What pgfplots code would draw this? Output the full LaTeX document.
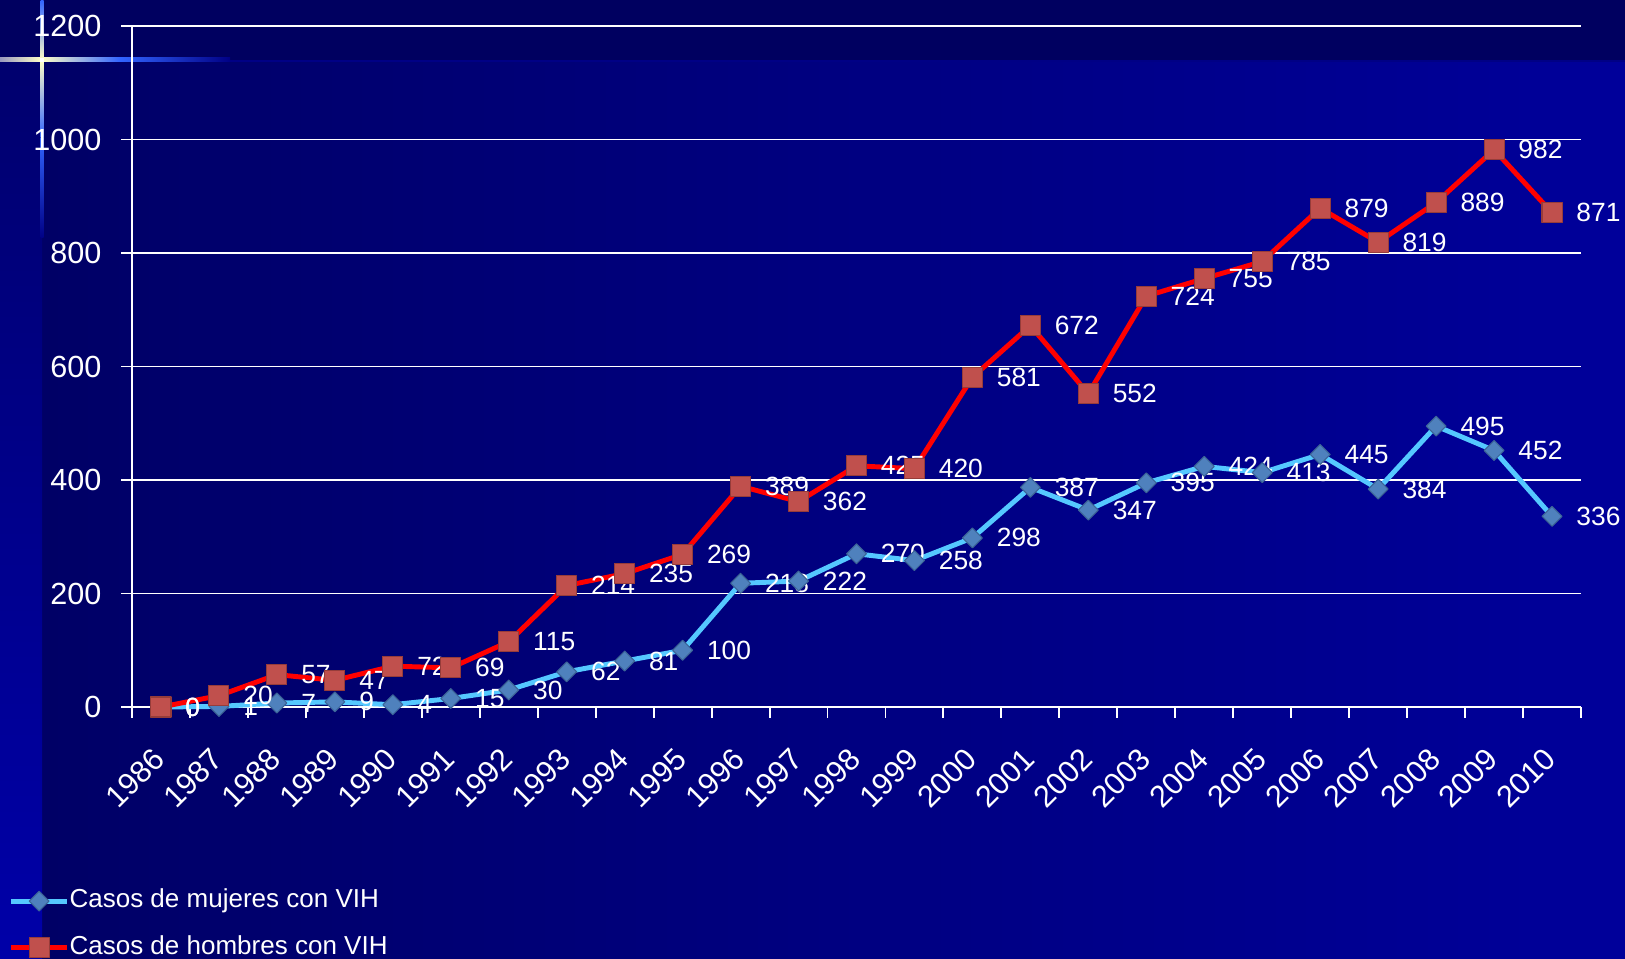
\documentclass[border=0pt]{standalone}
\usepackage{pgfplots}
\pgfplotsset{compat=1.18}
\usepackage{pgfplotstable}
\usepackage{fontspec}
\setmainfont{Liberation Sans}
\definecolor{bgtop}{RGB}{0,0,96}
\definecolor{bgL}{RGB}{0,0,102}
\definecolor{bgR}{RGB}{0,0,154}
\definecolor{stripT}{RGB}{0,0,110}
\definecolor{stripB}{RGB}{0,0,168}
\definecolor{flareW}{RGB}{255,255,200}
\definecolor{flareB}{RGB}{50,100,255}
\definecolor{lblue}{RGB}{85,200,255}
\definecolor{dblue}{RGB}{79,129,189}
\definecolor{dblueedge}{RGB}{60,100,150}
\definecolor{sqfill}{RGB}{192,80,77}
\definecolor{sqedge}{RGB}{150,60,58}

\pgfplotstableread{
x m h
0 0 0
1 1 20
2 7 57
3 9 47
4 4 72
5 15 69
6 30 115
7 62 214
8 81 235
9 100 269
10 218 389
11 222 362
12 270 425
13 258 420
14 298 581
15 387 672
16 347 552
17 395 724
18 424 755
19 413 785
20 445 879
21 384 819
22 495 889
23 452 982
24 336 871
}\datatable

\begin{document}
\begin{tikzpicture}
\clip (0mm,0mm) rectangle (162.5mm,95.8mm);
\begin{scope}[x=0.1mm,y=0.1mm]
\fill[bgtop] (0,0) rectangle (1625,958);
\shade[left color=bgL, right color=bgR] (42,0) rectangle (1625,896);
\shade[top color=stripT, bottom color=stripB] (0,0) rectangle (42,896);
% flare
\fill[bgR!60!bgL] (42,896) rectangle (1625,898);
\shade[left color=bgtop!40!white, right color=flareW] (0,896) rectangle (42,900);
\shade[left color=flareW, right color=flareB] (42,896) rectangle (120,900);
\shade[left color=flareB, right color=bgR!60!bgL] (120,896) rectangle (230,900);
\shade[bottom color=flareW, top color=flareB] (40.5,898) rectangle (43.5,958);
\shade[top color=flareW, bottom color=flareB] (40.5,898) rectangle (43.5,820);
\shade[top color=flareB, bottom color=stripT!60!stripB] (40.5,820) rectangle (43.5,720);
\fill[white] (40,896) rectangle (44,900);
\end{scope}

\begin{axis}[
  at={(13.2mm,25.1mm)}, anchor=south west, scale only axis,
  width=144.9mm, height=68.1mm,
  xmin=-0.5, xmax=24.5, ymin=0, ymax=1200,
  clip=false,
  axis x line*=bottom, axis y line*=left,
  axis line style={white, line width=0.55pt, -},
  ytick={0,200,...,1200},
  ymajorgrids,
  major grid style={white, line width=0.55pt},
  xtick={-0.5,0.5,...,24.5},
  x tick label as interval,
  xticklabels={1986,1987,1988,1989,1990,1991,1992,1993,1994,1995,1996,1997,1998,1999,2000,2001,2002,2003,2004,2005,2006,2007,2008,2009,2010},
  tick align=outside,
  major tick length=3pt,
  tick style={white, line width=0.55pt},
  /pgf/number format/assume math mode=true,
  /pgf/number format/1000 sep={},
  yticklabel style={font=\fontsize{8.7}{10}\selectfont, text=white, inner sep=0pt, xshift=-5.5pt},
  xticklabel style={font=\fontsize{8.7}{10}\selectfont, text=white, inner sep=0pt, anchor=north east, xshift=-2.6pt, yshift=-8pt, rotate=45},
  legend style={at={(-0.0856,-0.266)}, anchor=north west, draw=none, fill=none,
    text=white, font=\fontsize{7.4}{9}\selectfont, inner sep=0pt, row sep=6.2pt,
    nodes={inner sep=0pt, text height=5.4pt, text depth=1.6pt}},
  legend cell align=left,
  legend image code/.code={\draw[#1, mark repeat=2, mark phase=2] plot coordinates {(0mm,0mm) (2.8mm,0mm) (5.6mm,0mm)};},
  every node near coord/.append style={anchor=west, xshift=6.8pt, inner sep=0pt, text=white, font=\fontsize{7.5}{9}\selectfont},
]
\addplot[color=lblue, line width=1.4pt, line join=round, mark=square*, mark size=2.0pt,
  mark options={rotate=45, fill=dblue, draw=dblueedge, line width=0.3pt},
  nodes near coords, point meta=explicit] table[x=x, y=m, meta=m] {\datatable};
\addlegendentry{Casos de mujeres con VIH}
\addplot[color=red, line width=1.4pt, line join=round, mark=square*, mark size=2.85pt,
  mark options={fill=sqfill, draw=sqedge, line width=0.3pt},
  nodes near coords, point meta=explicit] table[x=x, y=h, meta=h] {\datatable};
\addlegendentry{Casos de hombres con VIH}
\end{axis}
\end{tikzpicture}
\end{document}
